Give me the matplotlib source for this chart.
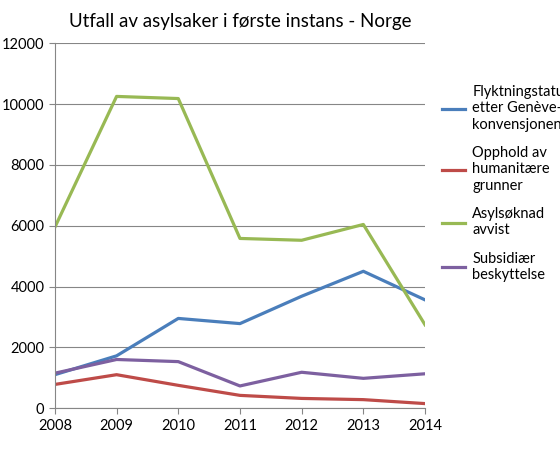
import matplotlib
matplotlib.use("Agg")
import matplotlib.pyplot as plt

years = [2008, 2009, 2010, 2011, 2012, 2013, 2014]
flykt = [1100, 1720, 2950, 2780, 3680, 4500, 3560]
opphold = [780, 1100, 750, 420, 320, 280, 150]
avvist = [5950, 10250, 10180, 5580, 5520, 6040, 2740]
subs = [1150, 1600, 1530, 730, 1180, 980, 1130]
labels = ["Flyktningstatus\netter Genève-\nkonvensjonen", "Opphold av\nhumanitære\ngrunner",
          "Asylsøknad\navvist", "Subsidiær\nbeskyttelse"]
colors = ["#4A7EBB", "#BE4B48", "#98B954", "#7D60A0"]

plt.rcParams['font.family'] = ['Lato', 'DejaVu Sans']
fig = plt.figure(figsize=(5.6, 4.5), dpi=100)
ax = fig.add_axes([0.098, 0.093, 0.661, 0.811])
lines = []
for s, c, l in zip([flykt, opphold, avvist, subs], colors, labels):
    ln, = ax.plot(years, s, color=c, lw=2.3, label=l)
    lines.append(ln)
ax.set_xlim(2008, 2014)
ax.set_ylim(0, 12000)
ax.set_yticks(range(0, 12001, 2000))
ax.set_xticks(years)
ax.grid(axis='y', color='#868686', lw=0.8)
ax.set_axisbelow(True)
for sp in ['top', 'right']:
    ax.spines[sp].set_visible(False)
ax.spines['left'].set_color('#868686')
ax.spines['bottom'].set_color('#868686')
ax.tick_params(labelsize=10.5, length=4, color='#868686')
ax.set_title("Utfall av asylsaker i første instans - Norge", fontsize=13.5, pad=12)
fig.legend(handles=lines, loc='upper left', bbox_to_anchor=(0.765, 0.84), frameon=False,
           fontsize=10.5, handlelength=1.6, labelspacing=1.0, handletextpad=0.5)
fig.savefig("out.png", dpi=100)
